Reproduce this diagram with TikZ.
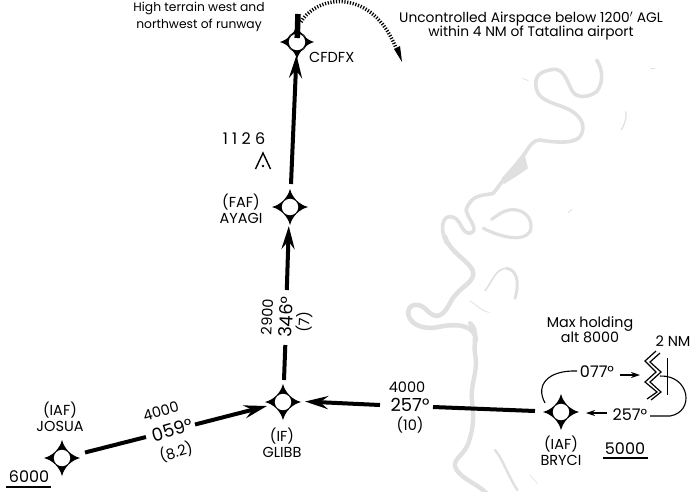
\documentclass[tikz,border=0pt]{standalone}
\usepackage{fontspec}
\setmainfont{Poppins}
\usetikzlibrary{arrows.meta}
\definecolor{river}{gray}{0.88}
\tikzset{
  x=1pt,y=-1pt,
  fixpt/.style={circle,inner sep=0pt,minimum size=#1},
  txt/.style={font=\fontsize{14.5}{15.5}\selectfont,inner sep=0pt,align=center},
  big/.style={font=\fontsize{18}{19}\selectfont,inner sep=0pt},
  track/.style={line width=4pt,-{Stealth[length=23pt,width=13pt,inset=8pt]}},
  trackplain/.style={line width=4pt},
  riverline/.style={draw=river,line width=#1,line cap=round,line join=round},
  thin line/.style={line width=1.1pt},
  small arrow/.style={line width=1.1pt,-{Stealth[length=9pt,width=6pt]}},
  star/.pic={
    \fill (0,-#1) .. controls (2.5,-9) and (9,-2.5) .. (#1,0)
      .. controls (9,2.5) and (2.5,9) .. (0,#1)
      .. controls (-2.5,9) and (-9,2.5) .. (-#1,0)
      .. controls (-9,-2.5) and (-2.5,-9) .. (0,-#1) -- cycle;
    \fill[white] (0,0) circle (8.2);
  }
}
\begin{document}
\begin{tikzpicture}
\useasboundingbox (0,0) rectangle (698,491);
% river
\begin{scope}[shift={(400,60)},x=0.3333pt,y=-0.3333pt]
 \draw[riverline=3.6pt] (590,0) .. controls (610,30) and (610,70) .. (590,95) .. controls (570,110) and (530,120) .. (515,90)
   .. controls (500,60) and (490,25) .. (460,28) .. controls (420,35) and (400,45) .. (410,90)
   .. controls (420,125) and (470,130) .. (510,150) .. controls (545,170) and (560,200) .. (540,230)
   .. controls (520,255) and (450,245) .. (420,240) .. controls (400,240) and (390,255) .. (372,285);
 \fill[river] (372,275) -- (384,325) -- (345,352) -- (312,372) -- (305,355) -- (340,315) -- cycle;
 \draw[riverline=3.6pt] (310,360) -- (280,400) .. controls (250,408) and (215,400) .. (198,450)
   .. controls (205,480) and (240,510) .. (210,520) .. controls (180,520) and (185,470) .. (150,470)
   .. controls (125,470) and (120,510) .. (140,550);
 \draw[riverline=4.6pt] (135,530) .. controls (150,580) and (220,610) .. (220,640)
   .. controls (220,670) and (180,680) .. (155,720) .. controls (130,770) and (110,785) .. (75,745)
   .. controls (50,725) and (20,735) .. (25,765) .. controls (35,800) and (80,810) .. (120,800)
   .. controls (170,790) and (225,795) .. (228,840);
 \draw[riverline=3.2pt] (275,478) .. controls (300,460) and (320,445) .. (350,450) .. controls (385,455) and (400,490) .. (390,515)
   .. controls (370,545) and (310,535) .. (250,505);
 \draw[riverline=1.6pt] (255,692) .. controls (275,670) and (285,625) .. (320,625);
 \draw[riverline=3pt] (320,625) .. controls (350,630) and (360,665) .. (345,715);
 \draw[riverline=0.8pt] (210,722) .. controls (230,735) and (245,755) .. (268,757);
 \draw[riverline=1.2pt] (678,155) .. controls (680,175) and (675,190) .. (664,210);
 \draw[riverline=0.8pt] (368,55) -- (385,62);
 \draw[riverline=0.8pt] (752,25) -- (765,25);
 \draw[riverline=0.8pt] (505,458) -- (515,448);
\end{scope}
\begin{scope}[shift={(400,280)},x=0.3333pt,y=-0.3333pt]
 \draw[riverline=4.4pt] (210,130) .. controls (235,145) and (220,190) .. (225,220) .. controls (235,270) and (215,300) .. (215,350)
   .. controls (220,400) and (225,430) .. (205,490) .. controls (190,530) and (150,540) .. (170,570) .. controls (190,600) and (230,610) .. (260,640);
 \draw[riverline=2.4pt] (285,510) .. controls (310,540) and (320,580) .. (352,630);
 \draw[riverline=0.6pt] (390,585) -- (412,610);
\end{scope}

% fixes
\node[fixpt=36pt] (josua) at (62,458) {};
\node[fixpt=36pt] (glibb) at (283,402) {};
\node[fixpt=36pt] (ayagi) at (290,207) {};
\node[fixpt=36pt] (bryci) at (561,412) {};
\node[fixpt=26pt] (cfdfx) at (297,42) {};
\pic at (josua.center) {star=18};
\pic at (glibb.center) {star=18};
\pic at (ayagi.center) {star=18};
\pic at (bryci.center) {star=18};
\draw[line width=0.7pt] (cfdfx.center) circle (9.7);
\begin{scope}[shift={(297,42)},scale=0.5]
 \pic at (0,0) {star=17};
\end{scope}
\coordinate (ctop) at (298,14);
\coordinate (cbot) at (297.2,38);
\draw[line width=5.5pt] (ctop) -- (cbot);

% tracks
\coordinate (j0) at (85,452.5);
\coordinate (j1) at (146,437);
\coordinate (j2) at (195,424.5);
\coordinate (j3) at (267,406);
\draw[trackplain] (j0) -- (j1);
\draw[track] (j2) -- (j3);
\coordinate (b0) at (535,411);
\coordinate (b1) at (433,407);
\coordinate (b2) at (380,405);
\coordinate (b3) at (305,401.5);
\draw[trackplain] (b0) -- (b1);
\draw[track] (b2) -- (b3);
\coordinate (g0) at (284,380);
\coordinate (g1) at (285.3,345);
\coordinate (g2) at (286.8,290);
\coordinate (g3) at (288.8,226);
\draw[trackplain] (g0) -- (g1);
\draw[track] (g2) -- (g3);
\coordinate (a0) at (291,184);
\coordinate (a1) at (296.5,55);
\draw[track] (a0) -- (a1);

% missed approach
\coordinate (dstart) at (301,22);
\coordinate (dend) at (396,48);
\draw[line width=3.5pt,dash pattern=on 1.2pt off 1.6pt] (dstart) .. controls (318,-6) and (372,-12) .. (dend);
\fill (402,62) -- (394,49) -- (400,46) -- cycle;

% holding
\coordinate (h1) at (545,403);
\coordinate (h2) at (577,371);
\draw[thin line] (h1) .. controls (535,385) and (548,370) .. (h2);
\coordinate (h3) at (620,375);
\coordinate (h4) at (640,375);
\draw[small arrow] (h3) -- (h4);
\coordinate (h5) at (607,413);
\coordinate (h6) at (586,413);
\draw[small arrow] (h5) -- (h6);
\coordinate (h7) at (650,416);
\coordinate (h8) at (660,376);
\draw[thin line] (h7) -- (670,416) .. controls (695,412) and (690,375) .. (h8);
\draw[line width=1pt] (667,358) -- (667,395);
\draw[line width=1.2pt] (656,351) -- (645,361) -- (656,372) -- (645,382) -- (657,392) -- (647,399);
\draw[line width=1.2pt] (660,353) -- (650,362) -- (661,372) -- (650,382) -- (661,392) -- (651,400);

% terrain spot
\draw[line width=1.4pt,line join=miter] (255.5,169) -- (263,153) -- (270.5,169);
\fill (263,166) circle (1.3);

% texts
\node[txt,font=\fontsize{12.3}{17}\selectfont] (t1) at (199,17) {High terrain west and\\northwest of runway};
\node[txt,font=\fontsize{13.8}{14.5}\selectfont] (t2) at (531,26) {Uncontrolled Airspace below 1200$'$ AGL\\within 4 NM of Tatalina airport};
\node[txt,anchor=west] (t3) at (309,57) {CFDFX};
\node[txt,font=\fontsize{16}{16}\selectfont] (t4) at (244,139) {1 1 2 6};
\node[txt] (t5) at (241,209) {(FAF)\\AYAGI};
\node[txt,rotate=87] (t6) at (267,317) {2900};
\node[big,rotate=87] (t7) at (286,317) {346°};
\node[txt,rotate=87] (t8) at (304,322) {(7)};
\node[txt,rotate=16] (t9) at (161,411) {4000};
\node[big,rotate=16] (t10) at (172,430) {059°};
\node[txt,rotate=16] (t11) at (176,452) {(8.2)};
\node[txt] (t12) at (60,417) {(IAF)\\JOSUA};
\node[txt,font=\fontsize{16}{16}\selectfont] (t13) at (29,477) {6000};
\draw[line width=1.1pt] (6,487) -- (51,487);
\node[txt] (t14) at (282,443) {(IF)\\GLIBB};
\node[txt] (t15) at (407,387) {4000};
\node[big] (t16) at (410,405) {257°};
\node[txt] (t17) at (410,425) {(10)};
\node[txt] (t18) at (561,451) {(IAF)\\BRYCI};
\node[txt,font=\fontsize{16}{16}\selectfont] (t19) at (625,449) {5000};
\draw[line width=1.1pt] (603,458) -- (648,458);
\node[txt,font=\fontsize{14.3}{15}\selectfont] (t20) at (590,330) {Max holding\\alt 8000};
\node[txt] (t21) at (673,341) {2 NM};
\node[txt,font=\fontsize{16}{16}\selectfont] (t22) at (597,372) {077°};
\node[txt,font=\fontsize{16}{16}\selectfont] (t23) at (630,415) {257°};
\end{tikzpicture}
\end{document}
